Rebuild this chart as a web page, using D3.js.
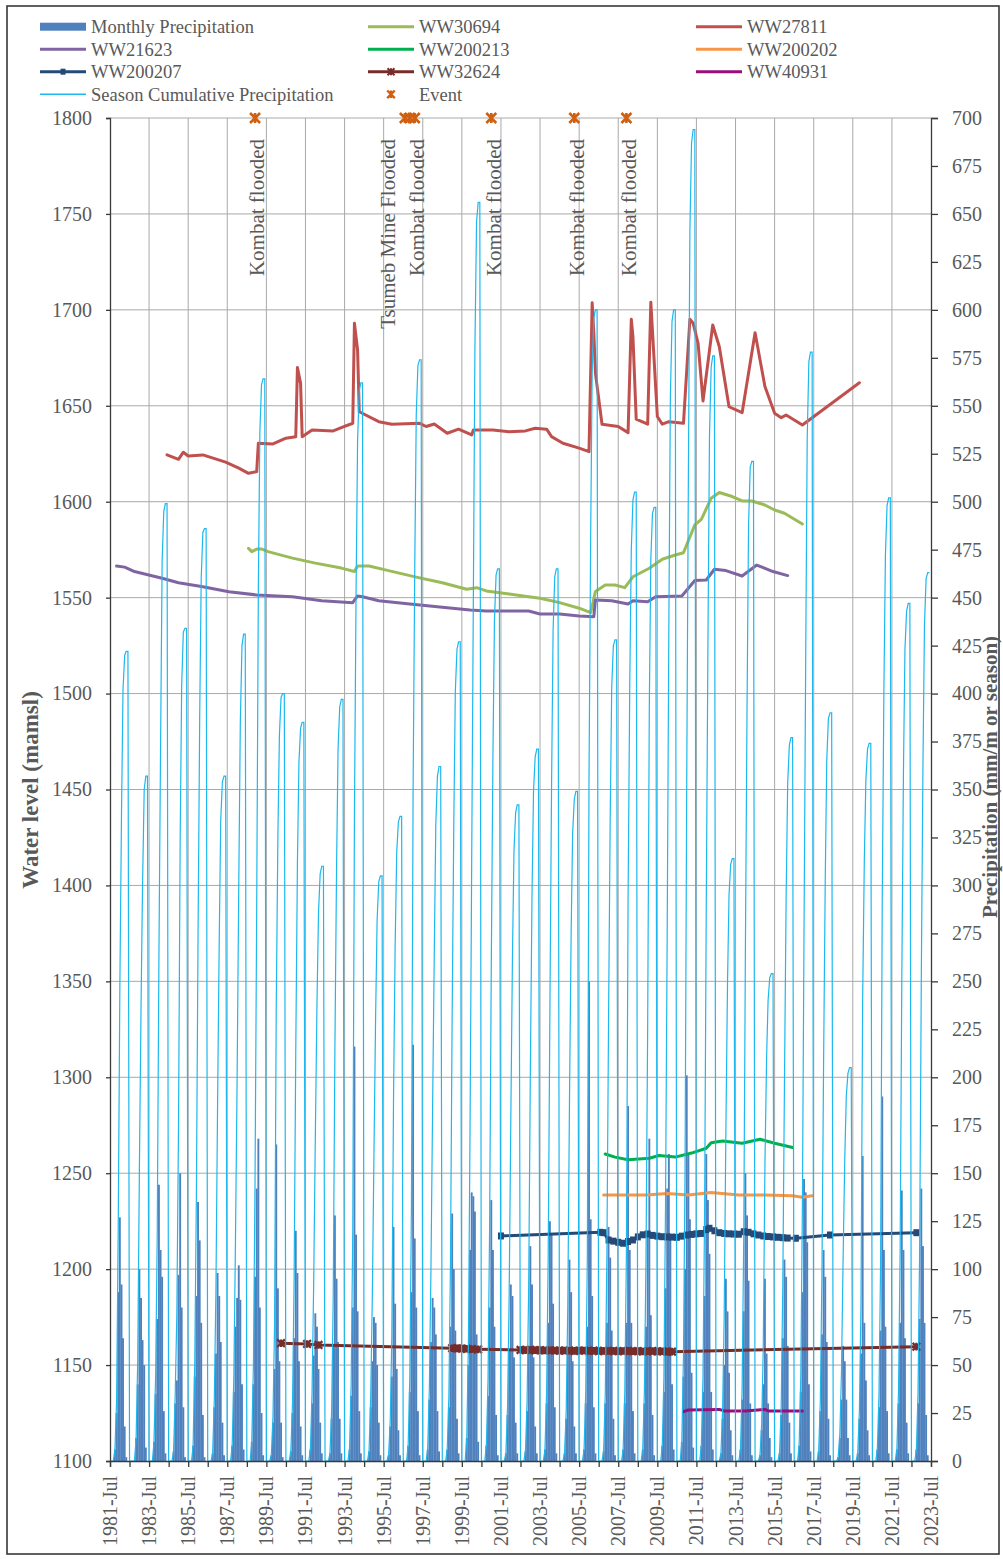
<!DOCTYPE html>
<html>
<head>
<meta charset="utf-8">
<script src="https://cdn.jsdelivr.net/npm/d3@7"></script>
<style>
  body { margin: 0; background: #fff; }
  svg text { font-family: "Liberation Serif", "Times New Roman", serif; fill: #595959; }
</style>
</head>
<body>
<svg id="chart" width="1003" height="1559"></svg>
<script>
// monthly rain per season, Jul..Jun, first season 1981/82
const firstSeason = 1981;
const monthlyRain = [
  [0,0,0,6,25,88,127,92,64,18,2,0],
  [0,0,0,0,12,40,100,85,63,50,7,0],
  [0,0,0,10,35,74,144,110,96,26,4,0],
  [0,0,0,5,30,42,97,150,80,28,2,0],
  [0,0,0,8,44,86,135,115,72,24,2,0],
  [0,0,0,4,28,56,98,86,62,20,3,0],
  [0,0,0,8,36,70,85,102,84,40,6,0],
  [0,0,0,10,40,96,142,168,80,25,3,0],
  [0,0,0,3,20,48,165,90,52,20,2,0],
  [0,0,0,5,25,64,120,98,52,18,3,0],
  [0,0,0,6,30,55,77,70,48,20,4,0],
  [0,0,0,4,22,60,128,95,62,22,4,0],
  [0,0,0,6,34,80,216,118,78,26,4,0],
  [0,0,0,5,28,52,75,72,50,20,3,0],
  [0,0,0,3,18,44,122,82,48,16,3,0],
  [0,0,0,8,36,88,217,116,80,26,3,0],
  [0,0,0,6,32,62,85,80,66,26,5,0],
  [0,0,0,6,28,70,129,100,68,22,4,0],
  [0,0,0,12,50,110,140,138,130,66,10,0],
  [0,0,0,8,34,80,136,110,70,24,3,0],
  [0,0,0,4,24,58,92,86,54,20,4,0],
  [0,0,0,5,26,60,112,92,54,18,4,0],
  [0,0,0,6,30,72,125,118,82,28,4,0],
  [0,0,0,4,22,56,105,88,52,18,4,0],
  [0,0,0,6,30,70,250,126,86,28,4,0],
  [0,0,0,5,30,72,122,106,68,22,3,0],
  [0,0,0,6,30,72,185,110,72,26,4,0],
  [0,0,0,6,30,70,120,168,76,24,3,0],
  [0,0,0,8,36,90,142,160,118,40,6,0],
  [0,0,0,10,44,100,201,160,126,46,7,0],
  [0,0,0,8,36,86,160,136,108,36,6,0],
  [0,0,0,4,22,50,95,78,46,16,3,0],
  [0,0,0,6,32,78,150,128,94,30,3,0],
  [0,0,0,3,16,40,95,56,30,12,2,0],
  [0,0,0,4,24,64,105,96,60,20,4,0],
  [0,0,0,8,36,88,147,140,114,40,5,0],
  [0,0,0,5,26,66,110,96,62,22,3,0],
  [0,0,0,2,12,32,60,52,32,12,3,0],
  [0,0,0,4,22,56,159,72,42,16,3,0],
  [0,0,0,6,28,68,190,110,70,26,4,0],
  [0,0,0,6,30,72,141,110,64,20,4,0],
  [0,0,0,6,30,74,142,112,72,24,3,0]
];

// water levels (mamsl), [month, level]
const ww30694 = [["1988-08",1575.7],["1988-10",1574.0],["1989-01",1575.3],["1989-04",1575.4],["1989-08",1574.0],["1990-11",1570.6],["1992-01",1568.0],["1993-05",1565.4],["1994-01",1563.6],["1994-03",1566.5],["1994-10",1566.5],["1995-10",1564.1],["1997-03",1560.7],["1998-07",1557.8],["1999-10",1554.4],["2000-04",1555.2],["2000-10",1553.5],["2001-12",1551.9],["2002-12",1550.5],["2003-07",1549.7],["2004-07",1547.4],["2005-07",1544.5],["2006-02",1542.2],["2006-05",1553.2],["2006-11",1556.6],["2007-05",1556.6],["2007-11",1555.2],["2008-04",1560.9],["2009-02",1565.3],["2009-10",1570.0],["2010-06",1572.2],["2010-11",1573.4],["2011-06",1587.9],["2011-10",1590.8],["2012-04",1601.8],["2012-09",1604.8],["2013-05",1602.7],["2013-11",1600.4],["2014-05",1600.4],["2015-01",1598.3],["2015-07",1595.7],["2016-01",1594.0],["2016-12",1588.4]];

const ww27811 = [["1984-06",1624.4],["1985-01",1622.1],["1985-04",1625.8],["1985-07",1623.8],["1986-04",1624.4],["1987-06",1620.6],["1988-02",1617.5],["1988-08",1614.8],["1989-01",1615.7],["1989-02",1630.5],["1989-11",1630.1],["1990-07",1633.1],["1991-01",1633.9],["1991-02",1669.9],["1991-04",1661.7],["1991-05",1633.9],["1991-11",1637.4],["1992-12",1636.9],["1993-05",1638.6],["1993-12",1640.9],["1994-01",1693.0],["1994-03",1679.1],["1994-04",1646.9],["1995-04",1641.7],["1995-12",1640.4],["1997-05",1640.9],["1997-09",1639.2],["1998-02",1640.5],["1998-10",1635.7],["1999-05",1637.8],["2000-01",1634.8],["2000-02",1637.4],["2001-02",1637.4],["2001-12",1636.5],["2002-10",1636.9],["2003-04",1638.3],["2003-11",1637.8],["2004-02",1633.9],["2004-09",1630.5],["2005-07",1627.9],["2006-01",1626.1],["2006-03",1703.7],["2006-04",1688.0],["2006-05",1667.0],["2006-09",1640.4],["2007-07",1639.2],["2008-01",1636.0],["2008-03",1695.1],["2008-04",1686.1],["2008-06",1643.0],["2009-01",1640.4],["2009-03",1704.0],["2009-07",1644.4],["2009-10",1640.4],["2010-02",1641.7],["2010-11",1640.9],["2011-03",1695.1],["2011-05",1693.0],["2011-08",1682.6],["2011-11",1652.5],["2012-05",1692.1],["2012-09",1680.8],["2013-03",1649.5],["2013-11",1646.4],["2014-07",1688.1],["2015-01",1660.0],["2015-07",1646.1],["2015-11",1643.8],["2016-02",1645.2],["2016-12",1640.0],["2019-11",1662.0]];

const ww21623 = [["1981-11",1566.5],["1982-04",1565.9],["1982-10",1563.6],["1984-03",1560.1],["1985-01",1557.8],["1986-04",1555.7],["1987-08",1553.1],["1989-01",1551.4],["1990-11",1550.5],["1992-05",1548.4],["1993-12",1547.4],["1994-03",1550.9],["1994-06",1550.5],["1995-04",1548.4],["1996-11",1546.7],["1998-07",1545.0],["1999-12",1543.6],["2000-10",1543.0],["2002-12",1543.0],["2003-07",1541.5],["2004-07",1541.5],["2005-07",1540.4],["2006-04",1540.1],["2006-05",1548.8],["2007-03",1548.4],["2008-01",1546.7],["2008-04",1548.4],["2009-01",1547.9],["2009-06",1550.5],["2010-10",1550.9],["2011-02",1554.9],["2011-06",1558.9],["2012-01",1559.2],["2012-06",1564.8],["2013-01",1564.1],["2013-11",1561.3],["2014-08",1567.0],["2015-06",1563.6],["2016-03",1561.5]];

const ww200213 = [["2006-11",1260.0],["2007-05",1258.4],["2008-01",1257.0],["2009-02",1257.8],["2009-08",1259.2],["2010-06",1258.4],["2011-04",1260.5],["2012-01",1263.0],["2012-04",1265.9],["2012-11",1266.8],["2013-11",1265.6],["2014-10",1267.7],["2015-07",1265.6],["2016-06",1263.4]];

const ww200202 = [["2006-10",1238.7],["2008-12",1238.7],["2010-01",1239.4],["2011-02",1238.7],["2012-04",1239.9],["2013-09",1238.7],["2015-01",1238.7],["2016-06",1238.2],["2016-12",1237.5],["2017-06",1238.2]];

const ww200207 = [["2001-07",1217.3],["2006-08",1219.2],["2006-10",1219.0],["2007-01",1215.2],["2007-04",1214.6],["2007-07",1214.0],["2007-10",1213.5],["2008-01",1214.4],["2008-04",1215.2],["2008-07",1216.8],["2008-10",1217.9],["2009-01",1218.3],["2009-04",1217.6],["2009-07",1217.2],["2009-10",1216.9],["2010-01",1216.8],["2010-04",1216.7],["2010-07",1216.6],["2010-10",1217.2],["2011-01",1217.8],["2011-04",1218.1],["2011-07",1218.4],["2011-10",1218.6],["2012-01",1220.6],["2012-03",1221.3],["2012-06",1220.0],["2012-09",1219.0],["2012-12",1218.6],["2013-03",1218.4],["2013-06",1218.3],["2013-09",1218.2],["2013-12",1219.5],["2014-03",1219.2],["2014-06",1218.4],["2014-09",1217.8],["2014-12",1217.3],["2015-03",1217.0],["2015-06",1216.8],["2015-09",1216.6],["2015-12",1216.4],["2016-03",1216.2],["2016-08",1216.1],["2018-05",1217.8],["2022-10",1219.0]];

const ww32624 = [["1990-04",1161.4],["1991-08",1161.0],["1992-03",1160.5],["1999-01",1158.8],["1999-04",1158.7],["1999-07",1158.6],["1999-10",1158.5],["2000-01",1158.3],["2000-05",1158.2],["2002-07",1157.9],["2002-10",1157.8],["2003-01",1157.9],["2003-04",1157.7],["2003-07",1157.8],["2003-10",1157.6],["2004-01",1157.7],["2004-04",1157.6],["2004-07",1157.5],["2004-10",1157.6],["2005-01",1157.5],["2005-04",1157.4],["2005-07",1157.5],["2005-10",1157.6],["2006-01",1157.4],["2006-04",1157.5],["2006-07",1157.3],["2006-10",1157.4],["2007-01",1157.3],["2007-04",1157.4],["2007-07",1157.2],["2007-10",1157.3],["2008-01",1157.4],["2008-04",1157.2],["2008-07",1157.3],["2008-10",1157.1],["2009-01",1157.2],["2009-04",1157.3],["2009-07",1157.1],["2009-10",1157.2],["2010-01",1157.0],["2010-04",1157.0],["2022-10",1159.6]];

const ww40931 = [["2010-11",1125.7],["2011-02",1126.6],["2012-09",1126.9],["2012-12",1126.1],["2014-01",1126.1],["2015-01",1126.9],["2015-03",1126.1],["2016-12",1126.1]];

const events = [["1988-12","Kombat flooded"],["1996-08","Tsumeb Mine Flooded"],["1996-11",""],["1997-02","Kombat flooded"],["2001-01","Kombat flooded"],["2005-04","Kombat flooded"],["2007-12","Kombat flooded"]];

const levelTicks = d3.range(1100, 1801, 50);
const rainTicks = d3.range(0, 701, 25);

const svg = d3.select("#chart");
const parseM = d3.timeParse("%Y-%m");
const pLeft = 110, pRight = 931, pTop = 118, pBottom = 1461;

const x = d3.scaleTime().domain([new Date(1981, 6, 1), new Date(2023, 6, 1)]).range([pLeft, pRight]);
const yL = d3.scaleLinear().domain([1100, 1800]).range([pBottom, pTop]);
const yR = d3.scaleLinear().domain([0, 700]).range([pBottom, pTop]);

// border round the whole chart
svg.append("rect").attr("x", 7).attr("y", 6).attr("width", 992).attr("height", 1548)
  .attr("fill", "none").attr("stroke", "#2b2b2b").attr("stroke-width", 1.5);

// grid
const grid = svg.append("g").attr("stroke", "#a9a9a9").attr("stroke-width", 1);
grid.selectAll("line.h").data(levelTicks.slice(1)).join("line")
  .attr("x1", pLeft).attr("x2", pRight).attr("y1", d => yL(d)).attr("y2", d => yL(d));
const yearTicks = d3.range(1981, 2024).map(yr => new Date(yr, 6, 1));
const labelYears = yearTicks.filter(d => (d.getFullYear() - 1981) % 2 === 0);
grid.selectAll("line.v").data(labelYears.slice(1, -1)).join("line")
  .attr("x1", d => x(d)).attr("x2", d => x(d)).attr("y1", pTop).attr("y2", pBottom);

// monthly bars + season cumulative
const months = [];
monthlyRain.forEach((row, i) => {
  let cum = 0;
  row.forEach((v, m) => {
    cum += v;
    months.push({date: new Date(firstSeason + i, 6 + m, 1), rain: v, cum: cum});
  });
});
const barW = 1.9;
svg.append("g").attr("fill", "#4f81bd")
  .selectAll("rect").data(months.filter(d => d.rain > 0)).join("rect")
  .attr("x", d => x(d.date) - barW / 2).attr("width", barW)
  .attr("y", d => yR(d.rain)).attr("height", d => yR(0) - yR(d.rain));

// water level lines
const series = [
  {name: "WW30694", data: ww30694, color: "#9bbb59"},
  {name: "WW27811", data: ww27811, color: "#c0504d"},
  {name: "WW21623", data: ww21623, color: "#8064a2"},
  {name: "WW200213", data: ww200213, color: "#00b050"},
  {name: "WW200202", data: ww200202, color: "#f79646"},
  {name: "WW200207", data: ww200207, color: "#254a78", marker: "square"},
  {name: "WW32624", data: ww32624, color: "#772c2a", marker: "star"},
  {name: "WW40931", data: ww40931, color: "#9a0e7a"}
];
const line = d3.line().x(d => x(parseM(d[0]))).y(d => yL(d[1]));
const starPath = s => `M${-s},${-s}L${s},${s}M${-s},${s}L${s},${-s}M0,${-s}L0,${s}`;

series.forEach(s => {
  svg.append("path").datum(s.data).attr("d", line)
    .attr("fill", "none").attr("stroke", s.color).attr("stroke-width", 3)
    .attr("stroke-linejoin", "round").attr("stroke-linecap", "round");
  if (s.marker === "square") {
    svg.append("g").attr("fill", s.color).selectAll("rect").data(s.data).join("rect")
      .attr("x", d => x(parseM(d[0])) - 3).attr("y", d => yL(d[1]) - 3.5)
      .attr("width", 6).attr("height", 7);
  } else if (s.marker === "star") {
    svg.append("g").attr("stroke", s.color).attr("stroke-width", 2.3).attr("fill", "none")
      .selectAll("path").data(s.data).join("path")
      .attr("transform", d => `translate(${x(parseM(d[0]))},${yL(d[1])})`)
      .attr("d", starPath(3.8));
  }
});

// season cumulative line
svg.append("path").datum(months)
  .attr("d", d3.line().x(d => x(d.date)).y(d => yR(d.cum)))
  .attr("fill", "none").attr("stroke", "#1cb8ef").attr("stroke-width", 1.2);

// axes
const axisL = svg.append("g").attr("transform", `translate(${pLeft},0)`)
  .call(d3.axisLeft(yL).tickValues(levelTicks).tickSize(4).tickPadding(14).tickFormat(d3.format("d")));
const axisR = svg.append("g").attr("transform", `translate(${pRight},0)`)
  .call(d3.axisRight(yR).tickValues(rainTicks).tickSize(7).tickPadding(14).tickFormat(d3.format("d")));
const axisB = svg.append("g").attr("transform", `translate(0,${pBottom})`)
  .call(d3.axisBottom(x).tickValues(yearTicks).tickSize(6).tickFormat(""));
[axisL, axisR, axisB].forEach(g => {
  g.select(".domain").attr("stroke", "#3a3a3a").attr("stroke-width", 1.3);
  g.selectAll(".tick line").attr("stroke", "#3a3a3a").attr("stroke-width", 1.3);
  g.selectAll("text").attr("font-size", 20).attr("font-family", null).attr("fill", "#595959");
});
const fmtX = d3.timeFormat("%Y-%b");
svg.append("g").selectAll("text").data(labelYears).join("text")
  .attr("transform", d => `translate(${x(d)},1476) rotate(-90)`)
  .attr("text-anchor", "end").attr("dy", "0.35em").attr("font-size", 20)
  .text(d => fmtX(d));

// axis titles
svg.append("text").attr("transform", "translate(30,790) rotate(-90)")
  .attr("text-anchor", "middle").attr("dy", "0.35em")
  .attr("font-size", 23).attr("font-weight", "bold").text("Water level (mamsl)");
svg.append("text").attr("transform", "translate(991,777) rotate(-90)")
  .attr("text-anchor", "middle").attr("dy", "0.28em")
  .attr("font-size", 21).attr("font-weight", "bold").text("Precipitation (mm/m or season)");

// events
const evColor = "#d0600f";
svg.append("g").attr("stroke", evColor).attr("stroke-width", 2.6).attr("fill", "none")
  .selectAll("path").data(events).join("path")
  .attr("transform", d => `translate(${x(parseM(d[0]))},${yL(1800)})`)
  .attr("d", starPath(5));
svg.append("g").selectAll("text").data(events.filter(d => d[1])).join("text")
  .attr("transform", d => {
    const off = d[1].startsWith("Tsumeb") ? -17 : 2;
    return `translate(${x(parseM(d[0])) + off},139) rotate(-90)`;
  })
  .attr("text-anchor", "end").attr("dy", "0.35em").attr("font-size", 21)
  .attr("fill", "#404040").text(d => d[1]);

// legend
const legendItems = [
  {name: "Monthly Precipitation", type: "bar", color: "#4f81bd"},
  {name: "WW30694", color: "#9bbb59"},
  {name: "WW27811", color: "#c0504d"},
  {name: "WW21623", color: "#8064a2"},
  {name: "WW200213", color: "#00b050"},
  {name: "WW200202", color: "#f79646"},
  {name: "WW200207", color: "#254a78", marker: "square"},
  {name: "WW32624", color: "#772c2a", marker: "star"},
  {name: "WW40931", color: "#9a0e7a"},
  {name: "Season Cumulative Precipitation", type: "thin", color: "#1cb8ef"},
  {name: "Event", type: "event", color: evColor}
];
const colX = [40, 368, 696], rowY = [26.7, 49.3, 71.7, 94.3];
const lg = svg.append("g");
legendItems.forEach((it, i) => {
  const cx = colX[i % 3], cy = rowY[Math.floor(i / 3)];
  const g = lg.append("g").attr("transform", `translate(${cx},${cy})`);
  if (it.type === "bar") {
    g.append("rect").attr("x", 0).attr("y", -4).attr("width", 46).attr("height", 8).attr("fill", it.color);
  } else if (it.type === "event") {
    g.append("path").attr("transform", "translate(23,0)").attr("d", starPath(3.8))
      .attr("stroke", it.color).attr("stroke-width", 2.4).attr("fill", "none");
  } else {
    g.append("line").attr("x1", 0).attr("x2", 46).attr("stroke", it.color)
      .attr("stroke-width", it.type === "thin" ? 1.4 : 3);
    if (it.marker === "square") g.append("rect").attr("x", 20.5).attr("y", -3).attr("width", 5).attr("height", 6).attr("fill", it.color);
    if (it.marker === "star") g.append("path").attr("transform", "translate(23,0)").attr("d", starPath(3.5))
      .attr("stroke", it.color).attr("stroke-width", 2);
  }
  g.append("text").attr("x", 51).attr("dy", "0.35em").attr("font-size", 18.5).text(it.name);
});
</script>
</body>
</html>
